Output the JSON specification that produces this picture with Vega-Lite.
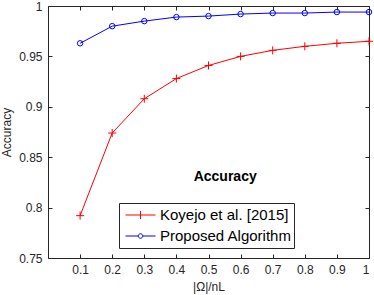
{
  "$schema": "https://vega.github.io/schema/vega-lite/v6.json",
  "autosize": "none",
  "padding": {"left": 48, "top": 6, "right": 5, "bottom": 37},
  "width": 321,
  "height": 252,
  "config": {
    "font": "Liberation Sans",
    "view": {"stroke": null},
    "axis": {"domainColor": "#262626", "tickColor": "#262626", "labelColor": "#262626", "titleColor": "#262626", "labelFontSize": 12, "titleFontSize": 12, "titleFontWeight": "normal", "grid": false, "tickSize": -4, "domainWidth": 1, "tickWidth": 1, "format": "~g"}
  },
  "datasets": {
    "acc": [
      {"x": 0.1, "acc": 0.792, "series": "Koyejo et al. [2015]"},
      {"x": 0.2, "acc": 0.874, "series": "Koyejo et al. [2015]"},
      {"x": 0.3, "acc": 0.908, "series": "Koyejo et al. [2015]"},
      {"x": 0.4, "acc": 0.928, "series": "Koyejo et al. [2015]"},
      {"x": 0.5, "acc": 0.941, "series": "Koyejo et al. [2015]"},
      {"x": 0.6, "acc": 0.950, "series": "Koyejo et al. [2015]"},
      {"x": 0.7, "acc": 0.956, "series": "Koyejo et al. [2015]"},
      {"x": 0.8, "acc": 0.960, "series": "Koyejo et al. [2015]"},
      {"x": 0.9, "acc": 0.963, "series": "Koyejo et al. [2015]"},
      {"x": 1.0, "acc": 0.965, "series": "Koyejo et al. [2015]"},
      {"x": 0.1, "acc": 0.963, "series": "Proposed Algorithm"},
      {"x": 0.2, "acc": 0.980, "series": "Proposed Algorithm"},
      {"x": 0.3, "acc": 0.985, "series": "Proposed Algorithm"},
      {"x": 0.4, "acc": 0.989, "series": "Proposed Algorithm"},
      {"x": 0.5, "acc": 0.990, "series": "Proposed Algorithm"},
      {"x": 0.6, "acc": 0.992, "series": "Proposed Algorithm"},
      {"x": 0.7, "acc": 0.993, "series": "Proposed Algorithm"},
      {"x": 0.8, "acc": 0.993, "series": "Proposed Algorithm"},
      {"x": 0.9, "acc": 0.994, "series": "Proposed Algorithm"},
      {"x": 1.0, "acc": 0.994, "series": "Proposed Algorithm"}
    ],
    "label": [{"x": 0.552, "y": 0.83, "t": "Accuracy"}]
  },
  "layer": [
    {
      "data": {"name": "acc"},
      "mark": {"type": "line", "strokeWidth": 1},
      "encoding": {
        "x": {"field": "x", "type": "quantitative", "scale": {"domain": [0, 1], "nice": false, "zero": false},
              "axis": {"values": [0.1, 0.2, 0.3, 0.4, 0.5, 0.6, 0.7, 0.8, 0.9, 1], "labelPadding": 10, "title": "|Ω|/nL", "titlePadding": 6}},
        "y": {"field": "acc", "type": "quantitative", "scale": {"domain": [0.75, 1], "nice": false, "zero": false},
              "axis": {"values": [0.75, 0.8, 0.85, 0.9, 0.95, 1], "labelPadding": 10, "title": "Accuracy", "titlePadding": 5}},
        "color": {"field": "series", "type": "nominal", "scale": {"domain": ["Koyejo et al. [2015]", "Proposed Algorithm"], "range": ["#ff0000", "#0000ff"]}, "legend": null}
      }
    },
    {
      "data": {"name": "acc"},
      "mark": {"type": "point", "filled": false, "strokeWidth": 1, "opacity": 1},
      "encoding": {
        "x": {"field": "x", "type": "quantitative", "axis": {"orient": "top", "values": [0.1, 0.2, 0.3, 0.4, 0.5, 0.6, 0.7, 0.8, 0.9, 1], "labels": false, "title": null}},
        "y": {"field": "acc", "type": "quantitative", "axis": {"orient": "right", "values": [0.75, 0.8, 0.85, 0.9, 0.95, 1], "labels": false, "title": null}},
        "color": {"field": "series", "type": "nominal", "legend": null},
        "shape": {"field": "series", "type": "nominal", "scale": {"domain": ["Koyejo et al. [2015]", "Proposed Algorithm"], "range": ["M-1,0H1M0,-1V1", "circle"]}, "legend": null},
        "size": {"field": "series", "type": "nominal", "scale": {"domain": ["Koyejo et al. [2015]", "Proposed Algorithm"], "range": [64, 30]}, "legend": null}
      }
    },
    {
      "data": {"name": "acc"},
      "transform": [{"filter": "datum.x > 5"}],
      "mark": {"type": "point", "filled": false, "strokeWidth": 1, "opacity": 1,
               "color": {"expr": "datum.value === 'Koyejo et al. [2015]' ? '#ff0000' : '#0000ff'"},
               "stroke": {"expr": "datum.value === 'Koyejo et al. [2015]' ? '#ff0000' : '#0000ff'"}},
      "encoding": {
        "x": {"field": "x", "type": "quantitative", "axis": null},
        "y": {"field": "acc", "type": "quantitative", "axis": null},
        "shape": {"field": "series", "type": "nominal",
                  "scale": {"domain": ["Koyejo et al. [2015]", "Proposed Algorithm"],
                            "range": ["M-1,0H1M0,-0.27V0.27", "M-1,0H-0.15M0.15,0H1M-0.15,0A0.15,0.15 0 1,1 0.15,0A0.15,0.15 0 1,1 -0.15,0"]},
                  "legend": {"orient": "none", "legendX": 71, "legendY": 197, "title": null, "strokeColor": "#262626", "fillColor": "white",
                             "padding": 2, "symbolOffset": 4, "symbolSize": 900, "clipHeight": 20, "rowPadding": 1, "labelFontSize": 15, "labelColor": "#000000", "labelOffset": 4,
                             "symbolStrokeWidth": 1, "symbolFillColor": "transparent", "symbolOpacity": 1}}
      }
    },
    {
      "data": {"name": "label"},
      "mark": {"type": "text", "fontWeight": "bold", "fontSize": 14, "color": "#000000"},
      "encoding": {
        "x": {"field": "x", "type": "quantitative", "axis": null},
        "y": {"field": "y", "type": "quantitative", "axis": null},
        "text": {"field": "t"}
      }
    }
  ],
  "resolve": {"scale": {"shape": "independent", "size": "independent"}, "axis": {"x": "independent", "y": "independent"}}
}
